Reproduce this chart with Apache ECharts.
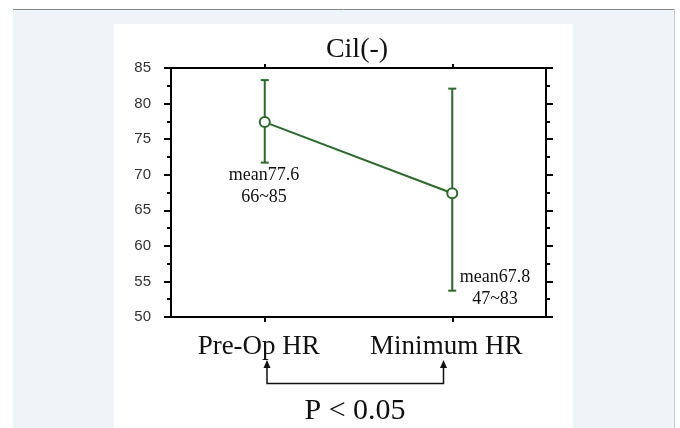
<!DOCTYPE html>
<html>
<head>
<meta charset="utf-8">
<script src="https://cdn.jsdelivr.net/npm/echarts@6/dist/echarts.min.js"></script>
<style>
html,body{margin:0;padding:0;background:#fff;}
#c{width:680px;height:428px;}
</style>
</head>
<body>
<div id="c"></div>
<script>
const categories = ['Pre-Op HR', 'Minimum HR'];
const meanValues = [77.4, 67.4];
const lowValues = [71.7, 53.7];
const highValues = [83.3, 82.1];
const yTicks = [50, 55, 60, 65, 70, 75, 80, 85];
const annotations = ['mean77.6\n66~85', 'mean67.8\n47~83'];
const titleText = 'Cil(-)';
const pText = 'P < 0.05';

const green = '#2b6a2b';
const serif = '"Liberation Serif","Times New Roman",serif';
const sans = '"Liberation Sans",Arial,sans-serif';

const chart = echarts.init(document.getElementById('c'));

const yAxisCommon = {
  type: 'value',
  min: yTicks[0],
  max: yTicks[yTicks.length - 1],
  interval: 5,
  splitLine: {show: false},
  axisLine: {show: true, lineStyle: {color: '#000', width: 2}},
  axisTick: {show: true, inside: false, length: 7, lineStyle: {color: '#000', width: 2}},
  minorTick: {show: true, splitNumber: 2, length: 4, lineStyle: {color: '#000', width: 2}},
  minorSplitLine: {show: false}
};

const option = {
  backgroundColor: '#fff',
  animation: false,
  grid: {left: 171, right: 134, top: 68, bottom: 111, containLabel: false},
  xAxis: [{
    type: 'category',
    data: categories,
    boundaryGap: true,
    position: 'bottom',
    axisLine: {show: true, lineStyle: {color: '#000', width: 2}},
    axisTick: {show: true, alignWithLabel: true, length: 5, lineStyle: {color: '#000', width: 2}},
    axisLabel: {
      show: true, interval: 0, hideOverlap: false, margin: 16, color: '#111', fontFamily: serif, fontSize: 27,
      padding: [0, 12, 0, 0]
    },
    splitLine: {show: false}
  }, {
    type: 'category',
    data: categories,
    boundaryGap: true,
    position: 'top',
    axisLine: {show: true, lineStyle: {color: '#000', width: 2}},
    axisTick: {show: true, alignWithLabel: true, length: 4, lineStyle: {color: '#000', width: 2}},
    axisLabel: {show: false},
    splitLine: {show: false}
  }],
  yAxis: [Object.assign({}, yAxisCommon, {
    position: 'left',
    axisLabel: {show: true, margin: 20, color: '#333', fontFamily: sans, fontSize: 15}
  }), Object.assign({}, yAxisCommon, {
    position: 'right',
    axisLabel: {show: false}
  })],
  series: [{
    type: 'custom',
    xAxisIndex: 0,
    yAxisIndex: 0,
    z: 2,
    data: categories.map((c, i) => [i, lowValues[i], highValues[i]]),
    renderItem: function (params, api) {
      const x = api.value(0);
      const top = api.coord([x, api.value(2)]);
      const bot = api.coord([x, api.value(1)]);
      const cw = 4;
      const st = {stroke: green, lineWidth: 2};
      return {
        type: 'group',
        children: [
          {type: 'line', shape: {x1: top[0], y1: top[1], x2: bot[0], y2: bot[1]}, style: st},
          {type: 'line', shape: {x1: top[0] - cw, y1: top[1], x2: top[0] + cw, y2: top[1]}, style: st},
          {type: 'line', shape: {x1: bot[0] - cw, y1: bot[1], x2: bot[0] + cw, y2: bot[1]}, style: st}
        ]
      };
    }
  }, {
    type: 'line',
    xAxisIndex: 0,
    yAxisIndex: 0,
    z: 5,
    data: meanValues,
    symbol: 'circle',
    symbolSize: 10,
    lineStyle: {color: green, width: 2},
    itemStyle: {color: '#fff', borderColor: green, borderWidth: 2}
  }],
  graphic: [
    {type: 'rect', z: -10, silent: true, shape: {x: 13, y: 9, width: 661, height: 430}, style: {fill: '#eef4f7'}},
    {type: 'line', z: -9, silent: true, shape: {x1: 13, y1: 9.5, x2: 674, y2: 9.5}, style: {stroke: '#8a8a8a', lineWidth: 1}},
    {type: 'line', z: -9, silent: true, shape: {x1: 674.5, y1: 9, x2: 674.5, y2: 428}, style: {stroke: '#c8ced2', lineWidth: 1}},
    {type: 'rect', z: -8, silent: true, shape: {x: 114, y: 24, width: 459, height: 410}, style: {fill: '#fff'}},
    {type: 'text', z: 10, x: 357, y: 50, style: {text: titleText, font: '28px ' + serif, fill: '#111', align: 'center', verticalAlign: 'middle'}},
    {type: 'text', z: 10, x: 264, y: 186, style: {text: annotations[0], font: '18px ' + serif, fill: '#111', align: 'center', verticalAlign: 'middle', lineHeight: 22}},
    {type: 'text', z: 10, x: 495, y: 288, style: {text: annotations[1], font: '18px ' + serif, fill: '#111', align: 'center', verticalAlign: 'middle', lineHeight: 22}},
    {type: 'polyline', z: 10, shape: {points: [[267, 366], [267, 383.5], [443.5, 383.5], [443.5, 366]]}, style: {stroke: '#111', lineWidth: 1.5, fill: null}},
    {type: 'polygon', z: 10, shape: {points: [[267, 360], [263.5, 368], [270.5, 368]]}, style: {fill: '#111'}},
    {type: 'polygon', z: 10, shape: {points: [[443.5, 360], [440, 368], [447, 368]]}, style: {fill: '#111'}},
    {type: 'text', z: 10, x: 355, y: 411, style: {text: pText, font: '30px ' + serif, fill: '#111', align: 'center', verticalAlign: 'middle'}}
  ]
};

chart.setOption(option);
</script>
</body>
</html>
